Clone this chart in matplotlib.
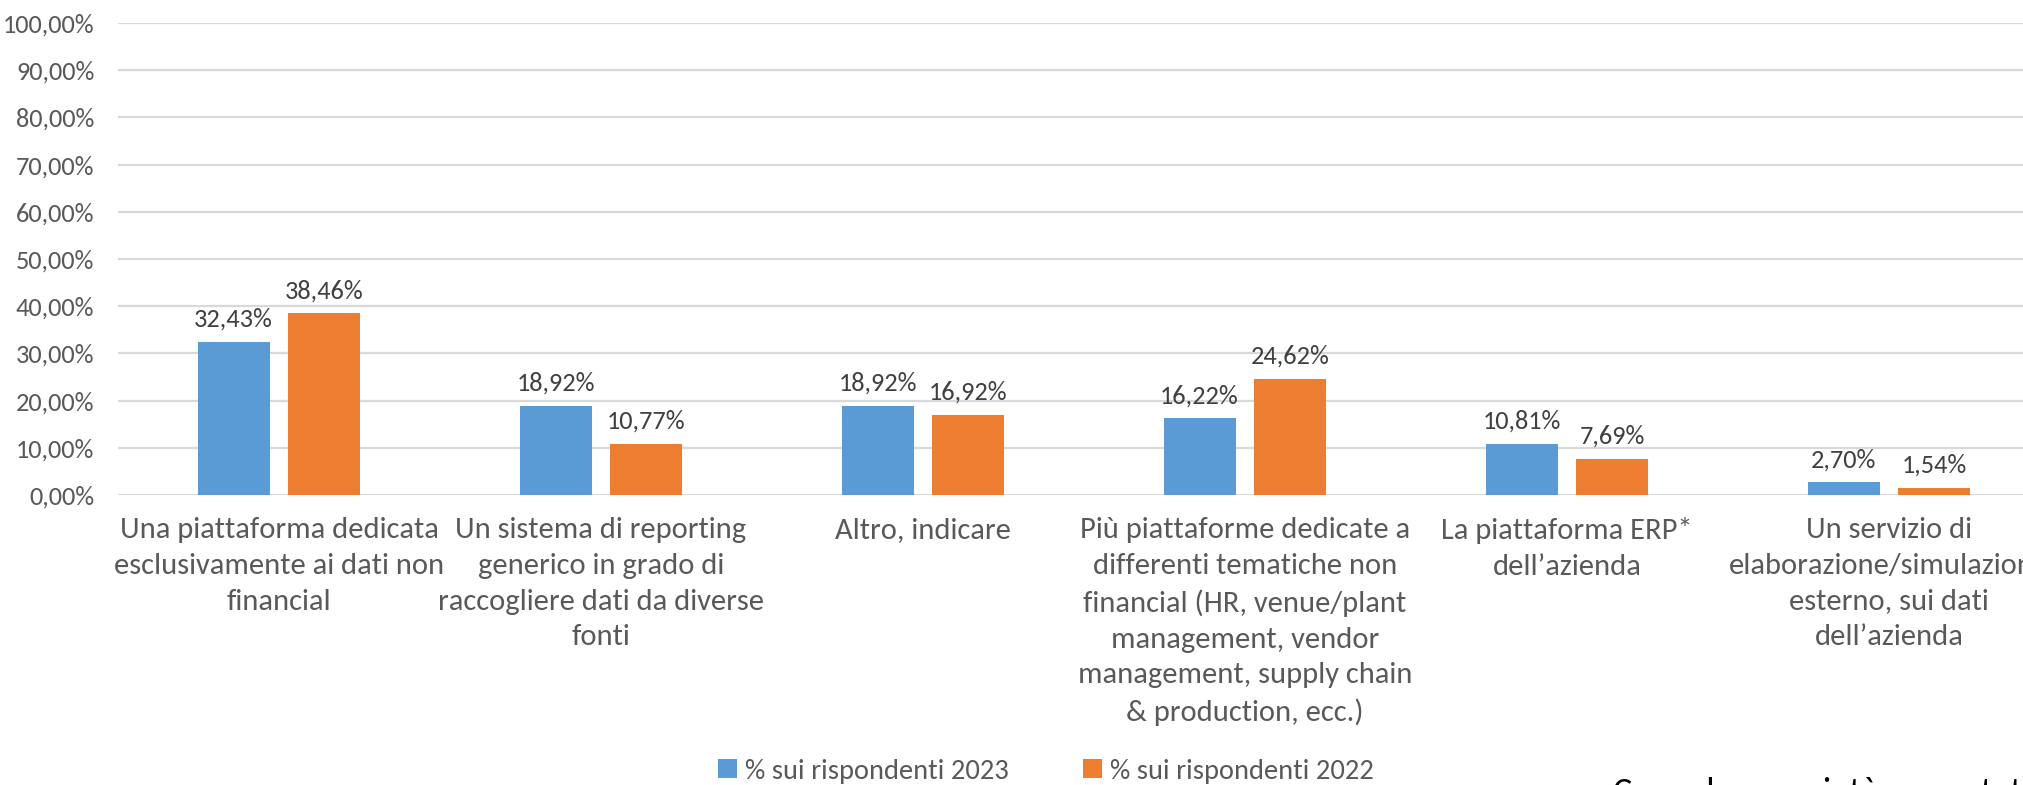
import matplotlib
matplotlib.use("Agg")
import matplotlib.pyplot as plt
import numpy as np
from matplotlib.ticker import FuncFormatter, MultipleLocator

# data
categories = [
    "Una piattaforma dedicata\nesclusivamente ai dati non\nfinancial",
    "Un sistema di reporting\ngenerico in grado di\nraccogliere dati da diverse\nfonti",
    "Altro, indicare",
    "Più piattaforme dedicate a\ndifferenti tematiche non\nfinancial (HR, venue/plant\nmanagement, vendor\nmanagement, supply chain\n& production, ecc.)",
    "La piattaforma ERP*\ndell’azienda",
    "Un servizio di\nelaborazione/simulazione\nesterno, sui dati\ndell’azienda",
]
vals_2023 = [32.43, 18.92, 18.92, 16.22, 10.81, 2.70]
vals_2022 = [38.46, 10.77, 16.92, 24.62, 7.69, 1.54]
series_names = ["% sui rispondenti 2023", "% sui rispondenti 2022"]
footer_text = "Come le proprietà sono state trattate"

plt.rcParams["font.family"] = ["Carlito", "Roboto Condensed", "DejaVu Sans"]

BLUE = "#5B9BD5"
ORANGE = "#ED7D31"
GREY = "#595959"

fig = plt.figure(figsize=(20.23, 7.85), dpi=100)
ax = fig.add_axes([118 / 2023, 1 - 495 / 785, 1932 / 2023, 472 / 785])

x = np.arange(len(categories))
w = 0.224
b1 = ax.bar(x - 0.141, vals_2023, w, color=BLUE, label=series_names[0], zorder=3)
b2 = ax.bar(x + 0.141, vals_2022, w, color=ORANGE, label=series_names[1], zorder=3)

fmt = lambda v: f"{v:.2f}".replace(".", ",") + "%"
for bars, vals in [(b1, vals_2023), (b2, vals_2022)]:
    for r, v in zip(bars, vals):
        ax.annotate(fmt(v), (r.get_x() + r.get_width() / 2, v),
                    xytext=(0, 8), textcoords="offset points",
                    ha="center", va="bottom", fontsize=19, color="#404040")

ax.set_xlim(-0.5, len(categories) - 0.5)
ax.set_ylim(0, 100)
ax.yaxis.set_major_locator(MultipleLocator(10))
ax.yaxis.set_major_formatter(FuncFormatter(lambda v, p: fmt(v)))
ax.grid(axis="y", color="#D9D9D9", linewidth=1.6, zorder=0)
for s in ax.spines.values():
    s.set_visible(False)
ax.tick_params(axis="y", length=0, pad=17, labelsize=19, labelcolor=GREY)
ax.set_xticks(x)
ax.set_xticklabels(categories, fontsize=22, color=GREY, linespacing=1.46)
ax.tick_params(axis="x", length=0, pad=16)

fig.legend(handles=[b1, b2], labels=series_names, loc="center",
           bbox_to_anchor=(1046 / 2023, 1 - 771 / 785), ncol=2, frameon=False,
           fontsize=20.5, labelcolor=GREY, handlelength=0.65, handleheight=0.65,
           handletextpad=0.3, columnspacing=2.6)

# footer line of the next slide, only the tops of its letters are visible
fig.text(1613 / 2023, 1 - 803 / 785, footer_text, ha="left", va="baseline",
         fontsize=26, color="black")

fig.savefig("out.png", dpi=100)
